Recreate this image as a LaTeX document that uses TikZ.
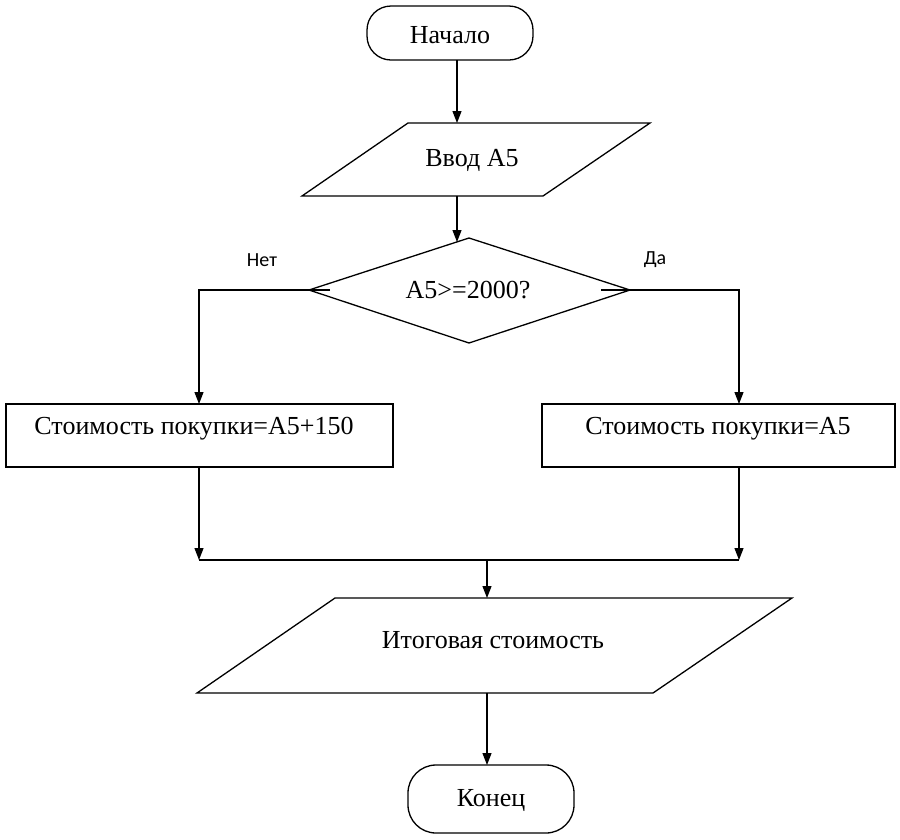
\documentclass[tikz,border=0pt]{standalone}
\usepackage{fontspec}
\setmainfont{Liberation Serif}
\newfontfamily\lblfont{Carlito}
\usetikzlibrary{arrows.meta}
\tikzset{
  shapeline/.style={draw=black, line width=1.3pt, line join=miter},
  conn/.style={draw=black, line width=1.2pt},
  arr/.style={conn, -{Triangle[length=12pt,width=9pt]}},
  txt/.style={font=\fontsize{26}{30}\selectfont, inner sep=0pt},
  lbl/.style={font=\lblfont\fontsize{20}{24}\selectfont, inner sep=0pt},
}
\begin{document}
\begin{tikzpicture}[x=1pt,y=-1pt]
\useasboundingbox[fill=white] (0,0) rectangle (900,839);

% start terminal
\draw[shapeline, rounded corners=24pt] (367,6) rectangle (533,60);
\node[txt] (start) at (450,35) {Начало};
\coordinate (startB) at (457,60);
\coordinate (inpT) at (457,123);
\draw[arr] (startB) -- (inpT);

% input
\draw[shapeline] (408,123) -- (650,123) -- (543,196) -- (302,196) -- cycle;
\node[txt] (inp) at (472,160) {Ввод А5};
\coordinate (inpB) at (457,196);
\coordinate (decT) at (457,242);
\draw[arr] (inpB) -- (decT);

% decision
\draw[shapeline] (469,238) -- (630,290) -- (469,343) -- (309,290) -- cycle;
\node[txt] (dec) at (468,290) {A5>=2000?};
\coordinate (decL) at (330,290);
\coordinate (decR) at (601,290);
\coordinate (leftT) at (199,404);
\coordinate (rightT) at (739,404);
\draw[arr] (decL) -- (decL -| leftT) -- (leftT);
\draw[arr] (decR) -- (decR -| rightT) -- (rightT);
\node[lbl] (no) at (262,260) {Нет};
\node[lbl] (yes) at (655,260) {Да};

% process boxes
\draw[shapeline] (6,404) rectangle (393,467);
\node[txt] (left) at (194,429) {Стоимость покупки=A5+150};
\draw[shapeline] (542,404) rectangle (895,467);
\node[txt] (right) at (718,429) {Стоимость покупки=A5};

% merge
\coordinate (leftB) at (199,467);
\coordinate (rightB) at (739,467);
\coordinate (mL) at (199,560);
\coordinate (mR) at (739,560);
\coordinate (mM) at (487,560);
\coordinate (outT) at (487,598);
\draw[arr] (leftB) -- (mL);
\draw[arr] (rightB) -- (mR);
\draw[conn] (mL) -- (mR);
\draw[arr] (mM) -- (outT);

% output
\draw[shapeline] (335,598) -- (792,598) -- (653,693) -- (197,693) -- cycle;
\node[txt] (out) at (493,640) {Итоговая стоимость};
\coordinate (outB) at (487,693);
\coordinate (endT) at (487,765);
\draw[arr] (outB) -- (endT);

% end terminal
\draw[shapeline, rounded corners=28pt] (408,765) rectangle (574,833);
\node[txt] (end) at (491,800) {Конец};
\end{tikzpicture}
\end{document}
